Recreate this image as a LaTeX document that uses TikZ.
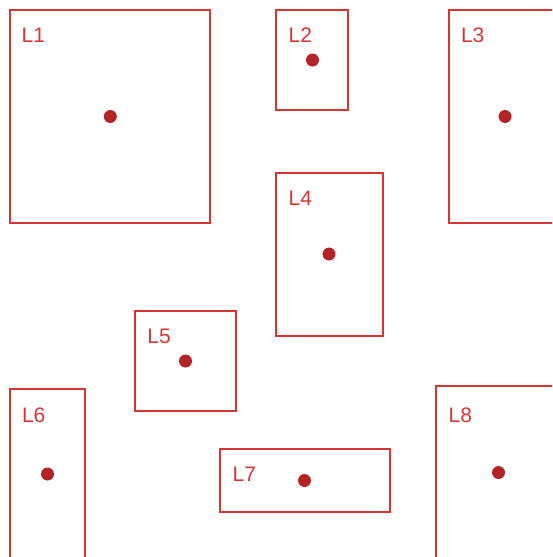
\documentclass[tikz,border=0pt]{standalone}
\usepackage{fontspec}
\setmainfont{Liberation Sans}
\definecolor{boxred}{RGB}{216,52,52}
\definecolor{dotred}{RGB}{180,36,38}
\begin{document}
\begin{tikzpicture}[x=1pt,y=-1pt,
  box/.style={draw=boxred,line width=2.4pt,rectangle,inner sep=0pt,outer sep=0pt},
  dotmark/.style={circle,fill=dotred,inner sep=0pt,minimum size=13pt},
  lab/.style={text=boxred,font=\fontsize{21}{24}\selectfont,inner sep=0pt,anchor=base west}]
\useasboundingbox (0,0) rectangle (552,557);
\clip (0,0) rectangle (552,557);
% boxes (centre, width, height)
\node[box,minimum width=200pt,minimum height=213pt] (L1) at (110,116.5) {};
\node[box,minimum width=72pt,minimum height=100pt] (L2) at (312,60) {};
\node[box,minimum width=200pt,minimum height=213pt] (L3) at (549,116.5) {};
\node[box,minimum width=107pt,minimum height=163pt] (L4) at (329.5,254.5) {};
\node[box,minimum width=101pt,minimum height=100pt] (L5) at (185.5,361) {};
\node[box,minimum width=75pt,minimum height=200pt] (L6) at (47.5,489) {};
\node[box,minimum width=170pt,minimum height=63pt] (L7) at (305,480.5) {};
\node[box,minimum width=200pt,minimum height=200pt] (L8) at (536,486) {};
% dots
\node[dotmark] (d1) at (110.3,116.5) {};
\node[dotmark] (d2) at (312.5,60) {};
\node[dotmark] (d3) at (505,116.5) {};
\node[dotmark] (d4) at (329,254) {};
\node[dotmark] (d5) at (185.5,361) {};
\node[dotmark] (d6) at (47.5,474) {};
\node[dotmark] (d7) at (304.5,480.5) {};
\node[dotmark] (d8) at (498.5,472.5) {};
% labels
\node[lab] (t1) at (21.5,42) {L1};
\node[lab] (t2) at (288.5,42) {L2};
\node[lab] (t3) at (460.8,42) {L3};
\node[lab] (t4) at (288.5,205) {L4};
\node[lab] (t5) at (147.2,343) {L5};
\node[lab] (t6) at (21.8,422) {L6};
\node[lab] (t7) at (232.5,481) {L7};
\node[lab] (t8) at (448.5,422) {L8};
\end{tikzpicture}
\end{document}
